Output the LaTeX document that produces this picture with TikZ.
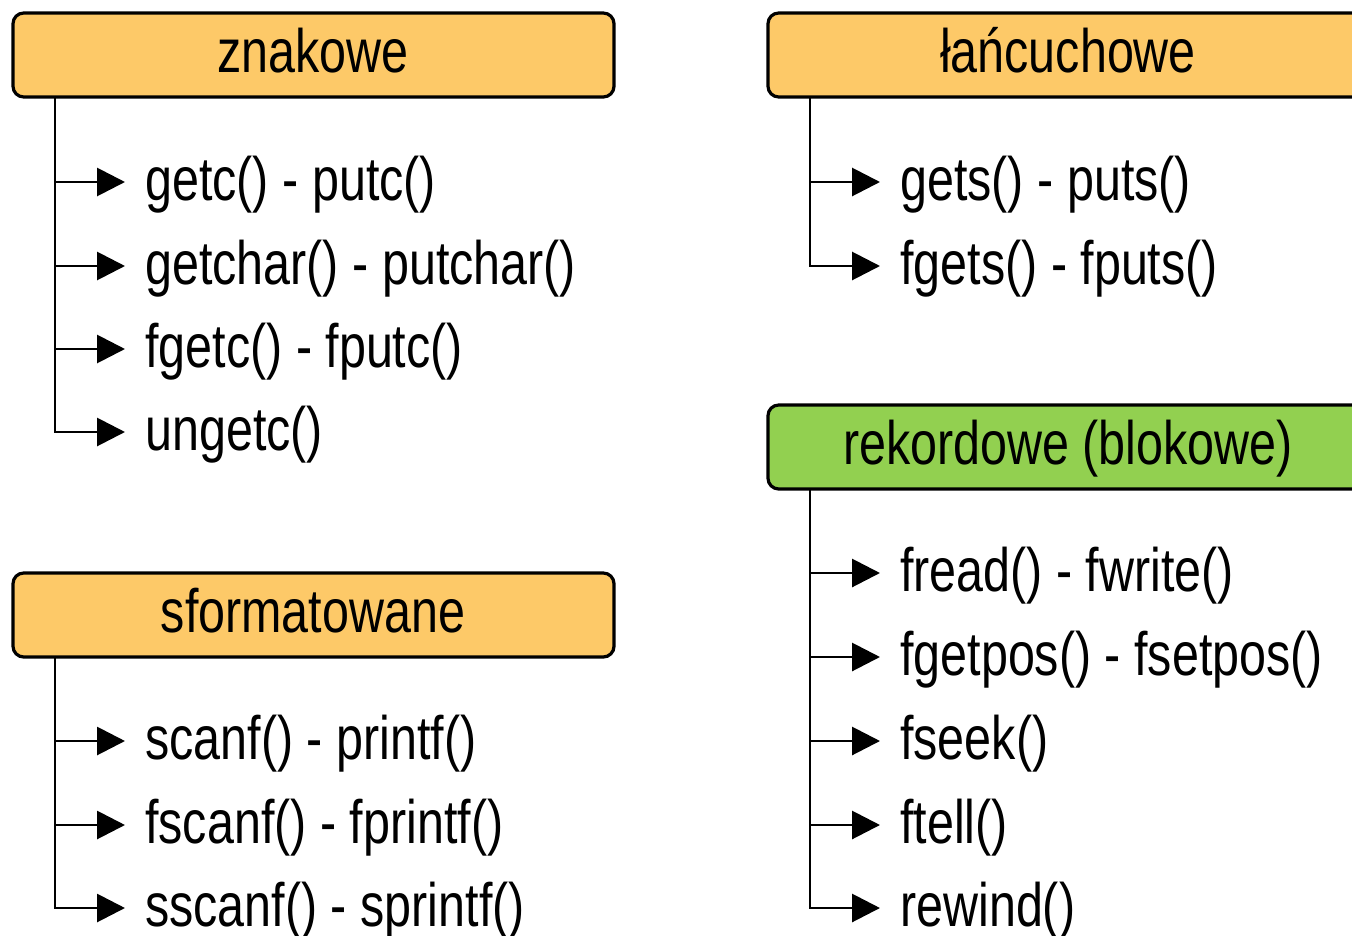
\documentclass[tikz,border=0pt]{standalone}
\usepackage{fontspec}
\setmainfont{Liberation Sans}[FakeStretch=0.79]
\usetikzlibrary{arrows.meta}
\definecolor{orangefill}{HTML}{FDC968}
\definecolor{greenfill}{HTML}{92D050}
\tikzset{
  hdrbox/.style={draw=black, line width=2.4pt, rounded corners=8pt},
  hdrtext/.style={anchor=base, font=\fontsize{46}{50}\selectfont, inner sep=0pt},
  itemtext/.style={anchor=base west, font=\fontsize{46}{50}\selectfont, inner sep=0pt},
  conn/.style={line width=2.2pt, -{Triangle[length=21pt,width=21pt]}},
  trunk/.style={line width=2.2pt},
}
\begin{document}
\begin{tikzpicture}[x=0.75pt,y=-0.75pt]
\useasboundingbox (0,0) rectangle (1352,935);
\clip (0,0) rectangle (1352,935);
% header boxes
\draw[hdrbox, fill=orangefill] (13,13) rectangle (614,97);
\node[hdrtext] (h1) at (313,72) {znakowe};
\draw[hdrbox, fill=orangefill] (13,573) rectangle (614,657);
\node[hdrtext] (h2) at (313,632) {sformatowane};
\draw[hdrbox, fill=orangefill] (768,13) rectangle (1380,97);
\node[hdrtext] (h3) at (1068,72) {łańcuchowe};
\draw[hdrbox, fill=greenfill] (768,405) rectangle (1380,489);
\node[hdrtext] (h4) at (1068,464) {rekordowe (blokowe)};
% trunks
\coordinate (t1a) at (55,97);
\coordinate (t1b) at (55,432);
\draw[trunk] (t1a) -- (t1b);
\coordinate (t2a) at (55,657);
\coordinate (t2b) at (55,908);
\draw[trunk] (t2a) -- (t2b);
\coordinate (t3a) at (810,97);
\coordinate (t3b) at (810,266);
\draw[trunk] (t3a) -- (t3b);
\coordinate (t4a) at (810,489);
\coordinate (t4b) at (810,908);
\draw[trunk] (t4a) -- (t4b);
% items
\foreach \y/\t/\n in {182/{getc() - putc()}/a1, 266/{getchar() - putchar()}/a2, 349/{fgetc() - fputc()}/a3, 432/{ungetc()}/a4,
                       741/{scanf() - printf()}/b1, 825/{fscanf() - fprintf()}/b2, 908/{sscanf() - sprintf()}/b3}{
  \coordinate (s\n) at (54,\y);
  \coordinate (e\n) at (125,\y);
  \draw[conn] (s\n) -- (e\n);
  \node[itemtext] (\n) at (145,\y+18) {\t};
}
\foreach \y/\t/\n in {182/{gets() - puts()}/c1, 266/{fgets() - fputs()}/c2,
                       573/{fread() - fwrite()}/d1, 657/{fgetpos() - fsetpos()}/d2, 741/{fseek()}/d3, 825/{ftell()}/d4, 908/{rewind()}/d5}{
  \coordinate (s\n) at (809,\y);
  \coordinate (e\n) at (880,\y);
  \draw[conn] (s\n) -- (e\n);
  \node[itemtext] (\n) at (900,\y+18) {\t};
}
\end{tikzpicture}
\end{document}
